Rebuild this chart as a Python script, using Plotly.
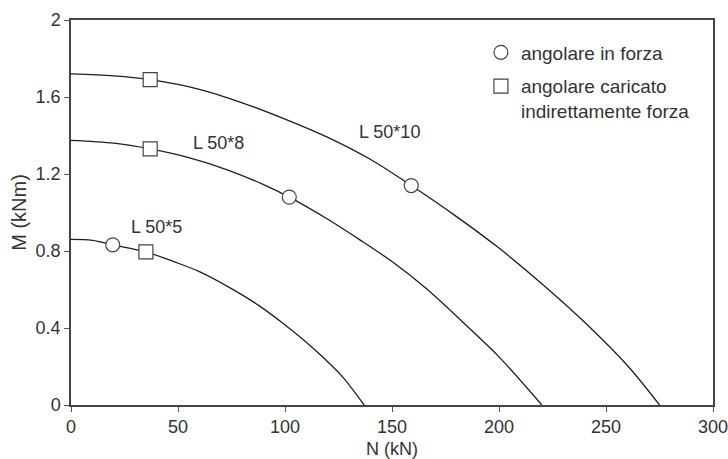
import plotly.graph_objects as go

# Interaction curves M-N for three angle sections
n_50x10 = [0, 20, 37, 60, 80, 100, 120, 140, 159, 180, 200, 220, 240, 260, 275]
m_50x10 = [1.72, 1.71, 1.69, 1.64, 1.57, 1.485, 1.39, 1.275, 1.14, 0.98, 0.815, 0.63, 0.43, 0.205, 0.0]

n_50x8 = [0, 20, 37, 55, 73, 90, 102, 120, 135, 150, 166, 186, 200, 220]
m_50x8 = [1.375, 1.36, 1.33, 1.285, 1.222, 1.145, 1.08, 0.965, 0.858, 0.745, 0.605, 0.40, 0.25, 0.0]

n_50x5 = [0, 10, 19.5, 35, 48, 60, 76, 88, 99, 109, 118, 127, 137]
m_50x5 = [0.86, 0.855, 0.832, 0.795, 0.745, 0.693, 0.598, 0.515, 0.425, 0.335, 0.245, 0.145, 0.0]

# Test points
n_forza = [19.5, 102, 159]
m_forza = [0.832, 1.08, 1.14]
n_indiretto = [35, 37, 37]
m_indiretto = [0.795, 1.33, 1.69]

curve_labels = ["L 50*10", "L 50*8", "L 50*5"]
label_n = [149, 69, 40]
label_m = [1.42, 1.36, 0.927]

x_ticks = [0, 50, 100, 150, 200, 250, 300]
y_ticks = [0, 0.4, 0.8, 1.2, 1.6, 2]
y_ticklabels = ["0", "0.4", "0.8", "1.2", "1.6", "2"]

FONT = "Liberation Sans, Arial, sans-serif"
TEXT = "#333333"

fig = go.Figure()

for n, m in [(n_50x10, m_50x10), (n_50x8, m_50x8), (n_50x5, m_50x5)]:
    fig.add_trace(go.Scatter(
        x=n, y=m, mode="lines", showlegend=False, hoverinfo="skip",
        line=dict(color="#1e1e1e", width=1.3, shape="spline", smoothing=0.9),
    ))

fig.add_trace(go.Scatter(
    x=n_forza, y=m_forza, mode="markers", name="angolare in forza",
    legendgroup="forza",
    marker=dict(symbol="circle", size=14, color="white",
                line=dict(color="#444444", width=1.2)),
))
fig.add_trace(go.Scatter(
    x=n_indiretto, y=m_indiretto, mode="markers",
    name="angolare caricato<br>indirettamente forza",
    legendgroup="indiretto",
    marker=dict(symbol="square", size=14, color="white",
                line=dict(color="#444444", width=1.2)),
))

for txt, xn, ym in zip(curve_labels, label_n, label_m):
    fig.add_annotation(x=xn, y=ym, text=txt, showarrow=False,
                       font=dict(family=FONT, size=18, color=TEXT))

axis_common = dict(
    showline=True, linecolor="#444444", linewidth=1.5, mirror=True,
    showgrid=False, zeroline=False, ticks="outside", ticklen=5,
    tickcolor="#555555", tickwidth=1.2, automargin=False,
    ticklabeloverflow="allow",
    tickfont=dict(family=FONT, size=18, color=TEXT),
)

fig.update_xaxes(
    range=[0, 300], tickvals=x_ticks,
    title=dict(text="N (kN)", font=dict(family=FONT, size=18, color=TEXT), standoff=12),
    **axis_common,
)
fig.update_yaxes(
    range=[0, 2], tickvals=y_ticks, ticktext=y_ticklabels,
    title=dict(text="M (kNm)", font=dict(family=FONT, size=20, color=TEXT), standoff=4),
    **axis_common,
)

fig.update_layout(
    width=728, height=459,
    margin=dict(l=71, r=15, t=20, b=54),
    paper_bgcolor="white", plot_bgcolor="white",
    font=dict(family=FONT, color=TEXT),
    legend=dict(
        x=0.6385, y=0.965, xanchor="left", yanchor="top",
        bgcolor="rgba(0,0,0,0)", borderwidth=0,
        font=dict(family=FONT, size=19, color=TEXT),
        itemwidth=30, valign="top", tracegroupgap=6,
    ),
)

fig.write_html("out.html")
